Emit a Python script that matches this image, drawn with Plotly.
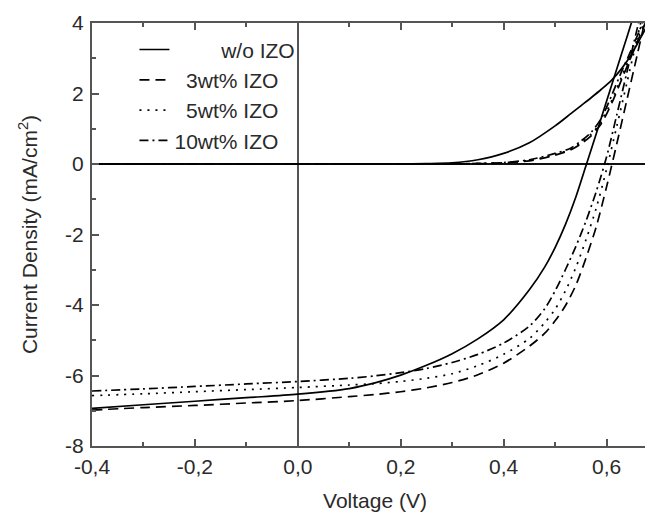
import plotly.graph_objects as go

# Voltage grids (V)
V_light = [-0.4, -0.3, -0.2, -0.1, 0.0, 0.1, 0.15, 0.2, 0.25, 0.3, 0.35, 0.4, 0.45, 0.48,
           0.5, 0.52, 0.54, 0.56, 0.58, 0.6, 0.62, 0.64, 0.66, 0.68]
V_dark = [-0.4, -0.2, 0.0, 0.1, 0.2, 0.25, 0.3, 0.35, 0.4, 0.45, 0.5, 0.53, 0.55, 0.57,
          0.59, 0.61, 0.63, 0.65, 0.67, 0.69]

# Illuminated current density (mA/cm2)
J_light_wo = [-6.93, -6.83, -6.73, -6.63, -6.53, -6.37, -6.21, -5.99, -5.71, -5.38, -4.96, -4.42,
              -3.57, -2.92, -2.37, -1.72, -0.95, -0.05, 0.86, 1.78, 2.7, 3.62, 4.55, 5.5]
J_light_3 = [-6.98, -6.91, -6.85, -6.78, -6.71, -6.6, -6.54, -6.46, -6.35, -6.2, -5.98, -5.65,
             -5.17, -4.8, -4.45, -4.02, -3.45, -2.67, -1.78, -0.65, 0.58, 1.85, 3.12, 4.4]
J_light_5 = [-6.57, -6.52, -6.46, -6.40, -6.34, -6.27, -6.23, -6.17, -6.08, -5.95, -5.72, -5.4,
             -4.95, -4.5, -4.12, -3.6, -2.95, -2.15, -1.25, -0.15, 1.08, 2.33, 3.6, 4.88]
J_light_10 = [-6.44, -6.38, -6.31, -6.24, -6.17, -6.08, -6.01, -5.92, -5.8, -5.63, -5.4, -5.08,
              -4.6, -4.1, -3.6, -3.0, -2.35, -1.62, -0.78, 0.2, 1.4, 2.63, 3.87, 5.1]

# Dark current density (mA/cm2)
J_dark_wo = [0, 0, 0, 0, 0.005, 0.01, 0.03, 0.12, 0.3, 0.6, 1.08, 1.42, 1.65, 1.88, 2.12, 2.38,
             2.72, 3.15, 3.68, 4.25]
J_dark_3 = [0, 0, 0, 0, 0, 0, 0.004, 0.01, 0.03, 0.09, 0.25, 0.4, 0.57, 0.8, 1.15, 1.72, 2.42,
            3.12, 3.82, 4.5]
J_dark_5 = [0, 0, 0, 0, 0, 0, 0.005, 0.012, 0.035, 0.1, 0.27, 0.42, 0.6, 0.85, 1.2, 1.8, 2.5,
            3.2, 3.9, 4.6]
J_dark_10 = [0, 0, 0, 0, 0, 0, 0.005, 0.015, 0.04, 0.12, 0.3, 0.45, 0.65, 0.9, 1.3, 1.95, 2.65,
             3.3, 4.0, 4.7]

series_names = ["w/o IZO", "3wt% IZO", "5wt% IZO", "10wt% IZO"]
legend_labels = ["\u00a0\u00a0\u00a0\u00a0\u00a0\u00a0\u00a0\u00a0w/o IZO",
                 "\u00a0\u00a03wt% IZO", "\u00a0\u00a05wt% IZO", "10wt% IZO"]

x_tickvals = [-0.4, -0.2, 0.0, 0.2, 0.4, 0.6]
x_ticktext = ["-0,4", "-0,2", "0,0", "0,2", "0,4", "0,6"]
y_tickvals = [-8, -6, -4, -2, 0, 2, 4]
y_ticktext = ["-8", "-6", "-4", "-2", "0", "2", "4"]

dashes = ["solid", "10px,6px", "2px,6px", "9px,4px,2px,4px"]
light = [J_light_wo, J_light_3, J_light_5, J_light_10]
dark = [J_dark_wo, J_dark_3, J_dark_5, J_dark_10]

fig = go.Figure()
for i in range(4):
    fig.add_trace(go.Scatter(x=V_light, y=light[i], mode="lines", name=legend_labels[i],
                             line=dict(color="black", width=1.7, dash=dashes[i], shape="spline",
                                       smoothing=0.8),
                             legendgroup=series_names[i]))
for i in range(4):
    fig.add_trace(go.Scatter(x=V_dark, y=dark[i], mode="lines", name=legend_labels[i],
                             showlegend=False,
                             line=dict(color="black", width=1.7, dash=dashes[i], shape="spline",
                                       smoothing=0.8),
                             legendgroup=series_names[i]))

font_family = "Liberation Sans, Arial, sans-serif"
# the page body adds an 8 px offset; margins compensate so the plot box lands where the reference has it
fig.update_layout(
    width=653, height=514,
    margin=dict(l=84, r=3, t=15, b=76, autoexpand=False),
    plot_bgcolor="white", paper_bgcolor="white",
    font=dict(family=font_family, size=21, color="#2a2a2a"),
    showlegend=True,
    legend=dict(x=0.075, y=0.985, xanchor="left", yanchor="top", bgcolor="rgba(0,0,0,0)",
                font=dict(size=21), tracegroupgap=0),
)
fig.update_xaxes(
    range=[-0.4, 0.7], tickvals=x_tickvals, ticktext=x_ticktext,
    ticks="inside", ticklen=7, tickwidth=1.5, tickcolor="#555",
    minor=dict(ticks="inside", ticklen=4, tickwidth=1.5, tickcolor="#555", dtick=0.1, tick0=0),
    showline=True, linecolor="#555", linewidth=2, mirror="ticks",
    showgrid=False, zeroline=True, zerolinecolor="#555", zerolinewidth=2,
    automargin=False, ticklabelstandoff=1,
    title=dict(text="Voltage (V)", font=dict(size=21), standoff=16),
)
fig.update_yaxes(
    range=[-8, 4], tickvals=y_tickvals, ticktext=y_ticktext,
    ticks="inside", ticklen=7, tickwidth=1.5, tickcolor="#555",
    minor=dict(ticks="inside", ticklen=4, tickwidth=1.5, tickcolor="#555", dtick=1, tick0=0),
    showline=True, linecolor="#555", linewidth=2, mirror="ticks",
    showgrid=False, zeroline=True, zerolinecolor="#111", zerolinewidth=2,
    automargin=False, ticklabelstandoff=2,
    title=dict(text="Current Density (mA/cm<sup>2</sup>)", font=dict(size=21), standoff=22),
)

fig.write_html("out.html")
